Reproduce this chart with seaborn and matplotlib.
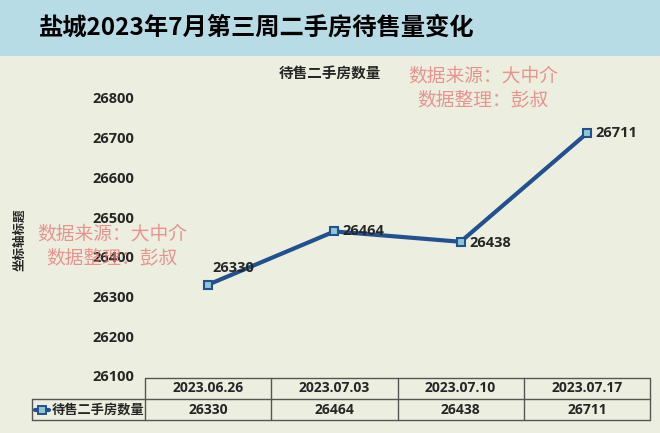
import matplotlib
matplotlib.use("Agg")
import matplotlib.pyplot as plt
import matplotlib.transforms as mtransforms
from matplotlib.patches import Rectangle
import seaborn as sns
import pandas as pd

# ---- data ----
dates = ["2023.06.26", "2023.07.03", "2023.07.10", "2023.07.17"]
values = [26330, 26464, 26438, 26711]
series_name = "待售二手房数量"
title = "盐城2023年7月第三周二手房待售量变化"
y_ticks = [26100, 26200, 26300, 26400, 26500, 26600, 26700, 26800]
watermark = "数据来源：大中介\n数据整理：彭叔"

sns.set_theme(style="white")
plt.rcParams['font.family'] = ['Open Sans', 'Noto Sans CJK SC', 'DejaVu Sans']
CJK = ['Noto Sans CJK SC', 'DejaVu Sans']

W, H = 660, 433
bg = "#ECEFE0"
line_c = "#23508F"
fig = plt.figure(figsize=(W / 100, H / 100), dpi=100, facecolor=bg)

def fx(px):
    return px / W

def fy(py):
    return 1 - py / H

# title banner
fig.patches.append(Rectangle((0, fy(56)), 1, 56 / H, transform=fig.transFigure,
                             facecolor="#B8DCE6", edgecolor="none", zorder=0))
fig.text(fx(257), fy(28), title, ha="center", va="center", fontsize=17.5,
         family=CJK, fontweight="bold", color="black")

# main axes
ax_l, ax_r, ax_t, ax_b = 145, 650, 98, 376
ax = fig.add_axes([fx(ax_l), fy(ax_b), (ax_r - ax_l) / W, (ax_b - ax_t) / H])
ax.set_facecolor(bg)
df = pd.DataFrame({"date": dates, "value": values, "x": range(len(dates))})
sns.lineplot(data=df, x="x", y="value", ax=ax, color=line_c, linewidth=3,
             marker="s", markersize=6, markerfacecolor="#8FC6D6",
             markeredgecolor=line_c, markeredgewidth=1.5)
ax.set_xlim(-0.5, len(dates) - 0.5)
ax.set_ylim(y_ticks[0], y_ticks[-1])
ax.set_yticks(y_ticks)
ax.set_yticklabels([str(t) for t in y_ticks], fontsize=10.5, fontweight="bold")
ax.tick_params(axis="y", length=0, pad=8)
ax.set_xticks([])
ax.set_xlabel("")
ax.set_ylabel("")
for s in ax.spines.values():
    s.set_visible(False)

# data labels
for i, v in enumerate(values):
    if i == 0:
        ax.annotate(str(v), (i, v), xytext=(18, 12), textcoords="offset points",
                    ha="center", va="center", fontsize=10.5, fontweight="bold")
    else:
        ax.annotate(str(v), (i, v), xytext=(6, 0 if i != 2 else -1),
                    textcoords="offset points", ha="left", va="center",
                    fontsize=10.5, fontweight="bold")

# chart title & y label
fig.text(fx(330), fy(73), series_name, ha="center", va="center", fontsize=10.5,
         fontweight="bold", family=CJK)
fig.text(fx(20), fy(240), "坐标轴标题", ha="center", va="center", fontsize=9,
         fontweight="bold", rotation=90, family=CJK)

# data table below the axes
t1, t2, t3 = 378, 399, 420
trans = mtransforms.blended_transform_factory(ax.transData, fig.transFigure)
lc = "#555555"
n = len(dates)
ax.plot([-0.5, n - 0.5], [fy(t1)] * 2, transform=trans, color=lc, lw=1, clip_on=False)
for yy in (t2, t3):
    fig.add_artist(plt.Line2D([fx(32), fx(ax_r)], [fy(yy)] * 2, color=lc, lw=1))
fig.add_artist(plt.Line2D([fx(32), fx(32)], [fy(t2), fy(t3)], color=lc, lw=1))
for k in range(n + 1):
    ax.plot([k - 0.5, k - 0.5], [fy(t1), fy(t3)], transform=trans, color=lc,
            lw=1, clip_on=False)
for i, (d, v) in enumerate(zip(dates, values)):
    ax.text(i, fy((t1 + t2) / 2), d, transform=trans, ha="center", va="center",
            fontsize=10, fontweight="bold")
    ax.text(i, fy((t2 + t3) / 2), str(v), transform=trans, ha="center",
            va="center", fontsize=10, fontweight="bold")
# legend key in table
ly = fy((t2 + t3) / 2)
fig.add_artist(plt.Line2D([fx(35), fx(49)], [ly, ly], color=line_c, lw=3, zorder=5))
fig.add_artist(plt.Line2D([fx(42)], [ly], color=line_c, marker="s", markersize=6,
                          markerfacecolor="#8FC6D6", markeredgecolor=line_c,
                          markeredgewidth=1.4, zorder=6))
fig.text(fx(52), ly, series_name, ha="left", va="center", fontsize=9.5,
         fontweight="bold", family=CJK)

# watermarks
for cx, cy in ((483, 88), (112, 246)):
    fig.text(fx(cx), fy(cy), watermark, ha="center", va="center", fontsize=13.5,
             color="#E67474", alpha=0.75, family=CJK, linespacing=1.15)

fig.savefig("out.png", dpi=100, facecolor=bg)
